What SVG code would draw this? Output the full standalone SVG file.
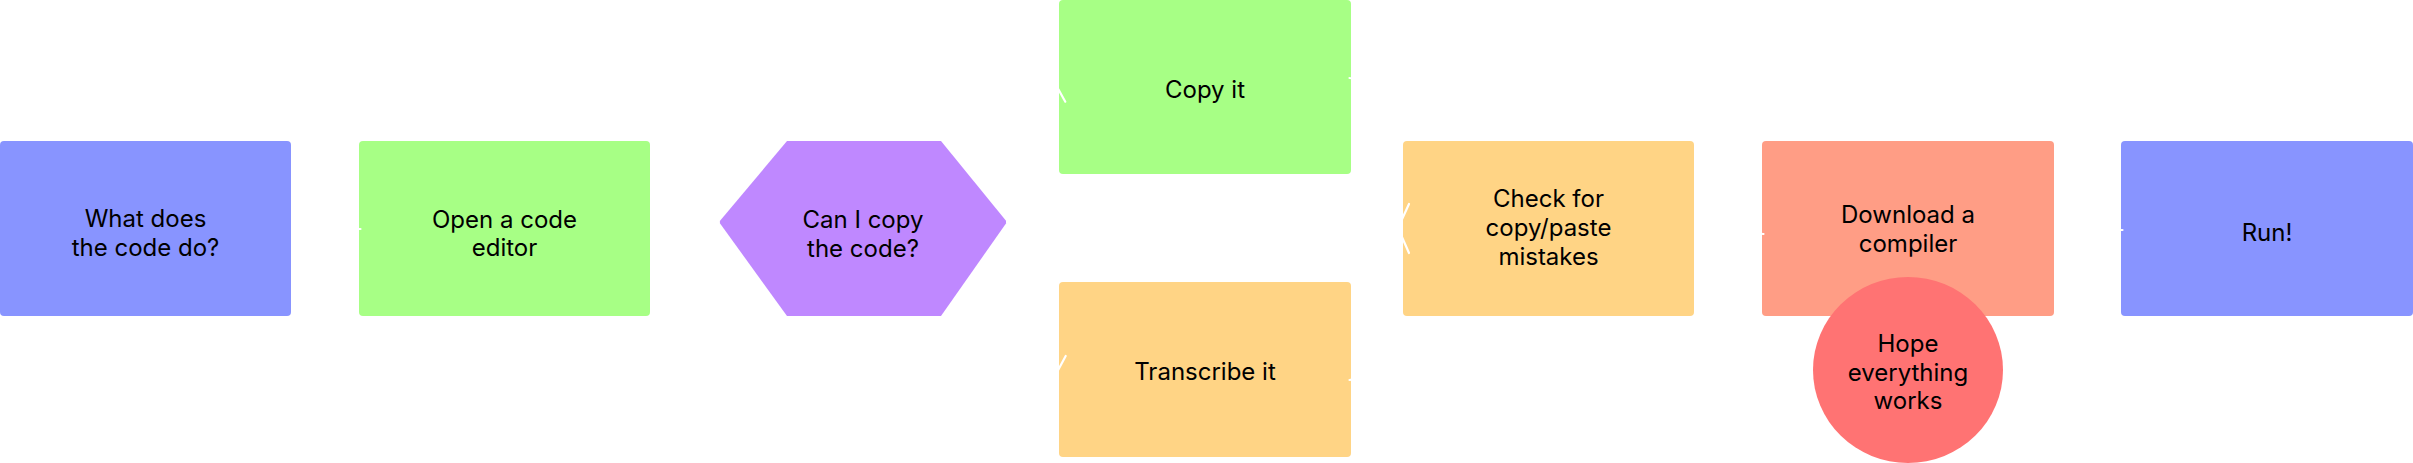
<svg xmlns="http://www.w3.org/2000/svg" width="2413" height="463" viewBox="0 0 2413 463">
<style>
text{font-family:Inter,"Noto Sans","Liberation Sans",sans-serif;font-size:24px;fill:#000;text-anchor:middle}
.conn{fill:none;stroke:#fff;stroke-width:2.2;stroke-linecap:round;stroke-linejoin:round}
.blue{fill:#8894FF}.green{fill:#A7FF85}.purple{fill:#BF88FF}.orange{fill:#FFD485}.salmon{fill:#FF9D85}.red{fill:#FF7373}
</style>
<rect width="2413" height="463" fill="#fff"/>
<g id="n1"><rect class="blue" x="0" y="141" width="291" height="175" rx="4"/><text x="145.5" y="227">What does</text><text x="145.5" y="256">the code do?</text></g>
<g id="n2"><rect class="green" x="359" y="141" width="291" height="175" rx="4"/><text x="504.5" y="227.5">Open a code</text><text x="504.5" y="256">editor</text></g>
<g id="n3"><polygon class="purple" points="719,222 787,141 941,141 1007,222 941,316 787,316"/><text x="863" y="228">Can I copy</text><text x="863" y="257">the code?</text></g>
<g id="n4"><rect class="green" x="1059" y="0" width="292" height="174" rx="4"/><text x="1205" y="98">Copy it</text></g>
<g id="n5"><rect class="orange" x="1059" y="282" width="292" height="175" rx="4"/><text x="1205" y="380">Transcribe it</text></g>
<g id="n6"><rect class="orange" x="1403" y="141" width="291" height="175" rx="4"/><text x="1548.5" y="207">Check for</text><text x="1548.5" y="236">copy/paste</text><text x="1548.5" y="265">mistakes</text></g>
<g id="n7"><rect class="salmon" x="1762" y="141" width="292" height="175" rx="4"/><text x="1908" y="223">Download a</text><text x="1908" y="252">compiler</text></g>
<g id="n8"><rect class="blue" x="2121" y="141" width="292" height="175" rx="4"/><text x="2267" y="241">Run!</text></g>
<g id="n9"><ellipse class="red" cx="1908" cy="370" rx="95" ry="93"/><text x="1908" y="352">Hope</text><text x="1908" y="381">everything</text><text x="1908" y="409">works</text></g>
<g id="connectors">
<path class="conn" d="M294,229 L360.5,229"/>
<path class="conn" d="M653,228 L719,222"/>
<path class="conn" d="M1007,222 C1032,222 1032,85 1056,85"/>
<path class="conn" d="M1051.5,67.5 L1056,85 L1065.3,101.7"/>
<path class="conn" d="M1007,222 C1032,222 1032,374 1056,374"/>
<path class="conn" d="M1051.5,391.5 L1056,374 L1065.7,356"/>
<path class="conn" d="M1349.5,78 C1375,78 1375,228 1398,228"/>
<path class="conn" d="M1349.5,380 C1375,380 1375,228 1398,228"/>
<path class="conn" d="M1409,204 L1398,228 L1409,253"/>
<path class="conn" d="M1697,228 L1763.5,234"/>
<path class="conn" d="M2057,230 L2122.5,230"/>
</g>
</svg>
